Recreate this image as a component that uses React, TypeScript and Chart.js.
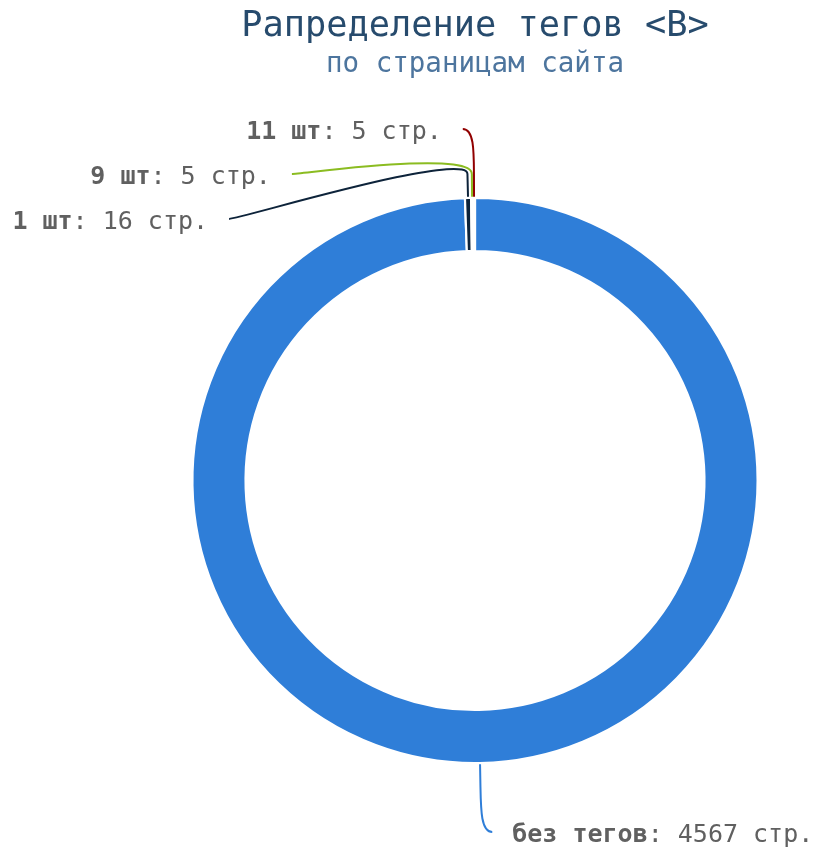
import React, { useEffect, useRef } from "react";
import { Chart, registerables } from "chart.js";

Chart.register(...registerables);

// ---- data ----
const categories = ["без тегов", "1 шт", "9 шт", "11 шт"];
const pageCounts = [4567, 16, 5, 5];
const sliceColors = ["#2f7ed8", "#0d233a", "#8bbc21", "#910000"];
const unitLabel = "стр.";
const titleText = "Рапределение тегов <B>";
const subtitleText = "по страницам сайта";

// ---- style ----
const FONT = "'DejaVu Sans Mono', monospace";
const LABEL_FONT_SIZE = 25;
const LABEL_COLOR = "#606060";
const LABEL_DISTANCE = 69;
const LABEL_SLOT_H = 45;
const CONNECTOR_OFFSET = 24;
const CONNECTOR_LEAD = 11;
const TEXT_GAP_LEFT = 32;
const TEXT_GAP_RIGHT = 31;
const BORDER_W = 2.2;

const pieLabelsPlugin = {
  id: "pieLabels",
  _layout(chart: any) {
    const meta = chart.getDatasetMeta(0);
    const arcs = meta.data as any[];
    if (!arcs.length) return [];
    const p0 = arcs[0].getProps(["x", "y", "outerRadius"], true);
    const cx = p0.x, cy = p0.y, r = p0.outerRadius;
    const R = r + LABEL_DISTANCE;
    const items = arcs.map((arc: any, i: number) => {
      const p = arc.getProps(["startAngle", "endAngle"], true);
      const mid = (p.startAngle + p.endAngle) / 2;
      const cos = Math.cos(mid), sin = Math.sin(mid);
      return {
        i, mid, cos, sin,
        left: cos < 0,
        ny: cy + sin * R,
        x: 0, y: 0, slot: 0,
      };
    });
    const slots: number[] = [];
    for (let pos = cy - R; pos <= cy + R + 0.001; pos += LABEL_SLOT_H) slots.push(pos);
    [true, false].forEach((side) => {
      const list = items.filter((it: any) => it.left === side).sort((a: any, b: any) => a.ny - b.ny);
      const used = new Set<number>();
      let prev = -1;
      list.forEach((it: any) => {
        let best = 0, bd = Infinity;
        slots.forEach((s, k) => {
          const d = Math.abs(s - it.ny);
          if (d < bd) { bd = d; best = k; }
        });
        let idx = Math.max(best, prev + 1);
        while (used.has(idx) && idx < slots.length - 1) idx++;
        idx = Math.min(idx, slots.length - 1);
        it.slot = idx;
        used.add(idx);
        prev = idx;
      });
      list.forEach((it: any) => {
        const sy = slots[it.slot];
        let y = sy;
        if ((it.ny > sy && !used.has(it.slot + 1)) || (it.ny < sy && !used.has(it.slot - 1))) y = it.ny;
        const yForX = it.slot === 0 || it.slot === slots.length - 1 ? it.ny : y;
        const dy = yForX - cy;
        it.y = y;
        it.x = cx + (it.left ? -1 : 1) * Math.sqrt(Math.max(R * R - dy * dy, 0));
      });
    });
    return items.map((it: any) => ({ ...it, cx, cy, r }));
  },
  beforeDatasetsDraw(chart: any) {
    const ctx = chart.ctx;
    const items = (pieLabelsPlugin as any)._layout(chart);
    ctx.save();
    items.forEach((it: any) => {
      const { cx, cy, r } = it;
      const P0x = it.x + (it.left ? -CONNECTOR_LEAD : CONNECTOR_LEAD);
      const Bx = cx + it.cos * (r + CONNECTOR_OFFSET);
      const By = cy + it.sin * (r + CONNECTOR_OFFSET);
      const Tx = cx + it.cos * r;
      const Ty = cy + it.sin * r;
      ctx.beginPath();
      ctx.moveTo(P0x, it.y);
      ctx.bezierCurveTo(it.x, it.y, 2 * Bx - Tx, 2 * By - Ty, Bx, By);
      ctx.lineTo(Tx, Ty);
      ctx.strokeStyle = sliceColors[it.i];
      ctx.lineWidth = 2;
      ctx.lineJoin = "round";
      ctx.stroke();
    });
    ctx.restore();
  },
  afterDatasetsDraw(chart: any) {
    const ctx = chart.ctx;
    const items = (pieLabelsPlugin as any)._layout(chart);
    ctx.save();
    ctx.fillStyle = LABEL_COLOR;
    ctx.textBaseline = "alphabetic";
    ctx.textAlign = "left";
    items.forEach((it: any) => {
      const boldPart = categories[it.i];
      const restPart = ": " + pageCounts[it.i] + " " + unitLabel;
      ctx.font = `bold ${LABEL_FONT_SIZE}px ${FONT}`;
      const wb = ctx.measureText(boldPart).width;
      ctx.font = `${LABEL_FONT_SIZE}px ${FONT}`;
      const wr = ctx.measureText(restPart).width;
      const total = wb + wr;
      const startX = it.left ? it.x - TEXT_GAP_LEFT - total : it.x + TEXT_GAP_RIGHT;
      const baseY = it.y + 1 + LABEL_FONT_SIZE * 0.365;
      ctx.font = `bold ${LABEL_FONT_SIZE}px ${FONT}`;
      ctx.fillText(boldPart, startX, baseY);
      ctx.font = `${LABEL_FONT_SIZE}px ${FONT}`;
      ctx.fillText(restPart, startX + wb, baseY);
    });
    ctx.restore();
  },
};

export default function App() {
  const canvasRef = useRef<HTMLCanvasElement | null>(null);

  useEffect(() => {
    if (!canvasRef.current) return;
    const chart = new Chart(canvasRef.current, {
      type: "doughnut",
      data: {
        labels: categories,
        datasets: [
          {
            data: pageCounts,
            backgroundColor: sliceColors,
            borderColor: "#ffffff",
            borderWidth: BORDER_W,
            hoverBorderWidth: BORDER_W,
            hoverOffset: 0,
            offset: 0,
          },
        ],
      },
      options: {
        responsive: false,
        animation: false,
        devicePixelRatio: 1,
        cutout: "81.2%",
        layout: {
          padding: { left: 191.3, right: 55.3, top: 0, bottom: 87.8 },
        },
        events: [],
        plugins: {
          legend: { display: false },
          tooltip: { enabled: false },
          title: {
            display: true,
            text: titleText,
            color: "#274b6d",
            fullSize: false,
            font: { family: FONT, size: 35.3, weight: "normal" },
            padding: { top: 6, bottom: 0 },
          },
          subtitle: {
            display: true,
            text: subtitleText,
            color: "#4d759e",
            fullSize: false,
            font: { family: FONT, size: 27.5, weight: "normal" },
            padding: { top: 0, bottom: 115.4 },
          },
        },
      },
      plugins: [pieLabelsPlugin as any],
    });
    return () => chart.destroy();
  }, []);

  return (
    <canvas
      ref={canvasRef}
      width={814}
      height={852}
      style={{ position: "fixed", left: 0, top: 0, width: 814, height: 852 }}
    />
  );
}
